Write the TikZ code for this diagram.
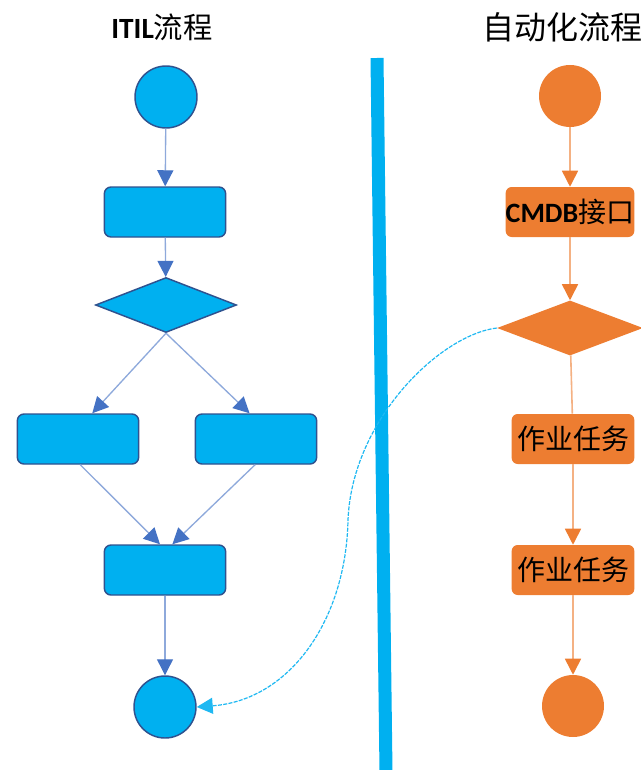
\documentclass[tikz,border=0pt]{standalone}
\usepackage{fontspec}
\setmainfont{Carlito}
\newfontfamily\cjk{Noto Sans CJK SC}
\usepackage{tikz}
\usetikzlibrary{
	shapes.geometric,
	arrows.meta
}
\definecolor{itilfill}{HTML}{00B0F0}
\definecolor{itilborder}{HTML}{2F528F}
\definecolor{itilline}{HTML}{8EA9DB}
\definecolor{itiltip}{HTML}{4472C4}
\definecolor{autofill}{HTML}{ED7D31}
\definecolor{autoline}{HTML}{F4B183}
\definecolor{linkline}{HTML}{1FB8F2}

\begin{document}
\begin{tikzpicture}[
		x=0.75pt, y=-0.75pt,
		title/.style={font=\fontsize{22}{26}\selectfont, inner sep=0pt},
		istate/.style={circle, fill=itilfill, draw=itilborder, line width=1.1pt, minimum size=46.5pt},
		ibox/.style={rectangle, rounded corners=5pt, fill=itilfill, draw=itilborder, line width=1.1pt,
			minimum width=91pt, minimum height=37.5pt},
		ichoice/.style={diamond, fill=itilfill, draw=itilborder, line width=1.1pt, inner sep=0pt,
			minimum width=105.75pt, minimum height=41.25pt},
		astate/.style={circle, fill=autofill, minimum size=46.5pt},
		abox/.style={rectangle, rounded corners=4.5pt, fill=autofill, minimum width=92pt, minimum height=37.5pt,
			inner sep=0pt, font=\fontsize{21}{24}\selectfont},
		achoice/.style={diamond, fill=autofill, inner sep=0pt, minimum width=109.5pt, minimum height=41.25pt},
		iflow/.style={draw=itilline, line width=1pt, -{Triangle[length=12pt, width=12pt, color=itiltip]}},
		aflow/.style={draw=autoline, line width=1.2pt, -{Triangle[length=12pt, width=12pt, color=autofill]}},
		link/.style={draw=linkline, line width=0.9pt, dash pattern=on 3pt off 1pt,
			-{Triangle[length=12pt, width=12pt, color=linkline]}}
	]
		\useasboundingbox (0,0) rectangle (641,770);

		% the divider
		\draw[itilfill, line width=9.75pt] (377,58) -- (386,772);

		\draw
			node[title] (ti) at (162,27) {\textbf{ITIL}{\cjk 流程}}
			node[title, font=\fontsize{24}{28}\selectfont] (ta) at (562,27) {\cjk 自动化流程}

			node[istate]  (i0) at (166,97)  {}
			node[ibox]    (i1) at (165,212) {}
			node[ichoice] (i2) at (166,305) {}
			node[ibox]    (i3) at (78,439)  {}
			node[ibox]    (i4) at (256,439) {}
			node[ibox]    (i5) at (165,570) {}
			node[istate]  (i6) at (165,707) {}

			node[astate]  (a0) at (570,96)  {}
			node[abox]    (a1) at (570,212) {\textbf{CMDB}{\cjk 接口}}
			node[achoice] (a2) at (570,328) {}
			node[abox]    (a3) at (573,439) {\cjk 作业任务}
			node[abox]    (a4) at (573,570) {\cjk 作业任务}
			node[astate]  (a5) at (573,706) {}

			(i0) edge[iflow]        (i1)
			(i1) edge[iflow]        (i2)
			(i2.south) edge[iflow]  (i3.61)
			(i2.south) edge[iflow]  (i4.104)
			(i3.-85) edge[iflow]    (i5.101)
			(i4.-92) edge[iflow]    (i5.74)
			(i5) edge[iflow]        (i6)

			(a0) edge[aflow]        (a1)
			(a1) edge[aflow]        (a2)
			(a2) edge[draw=autoline, line width=1.2pt] (a3)
			(a3) edge[aflow]        (a4)
			(a4) edge[aflow]        (a5)
		;

		\draw[link] (a2.west) .. controls (440,335) and (352,420) .. (348,520)
			.. controls (346,620) and (290,700) .. (i6.east);
	\end{tikzpicture}
\end{document}
